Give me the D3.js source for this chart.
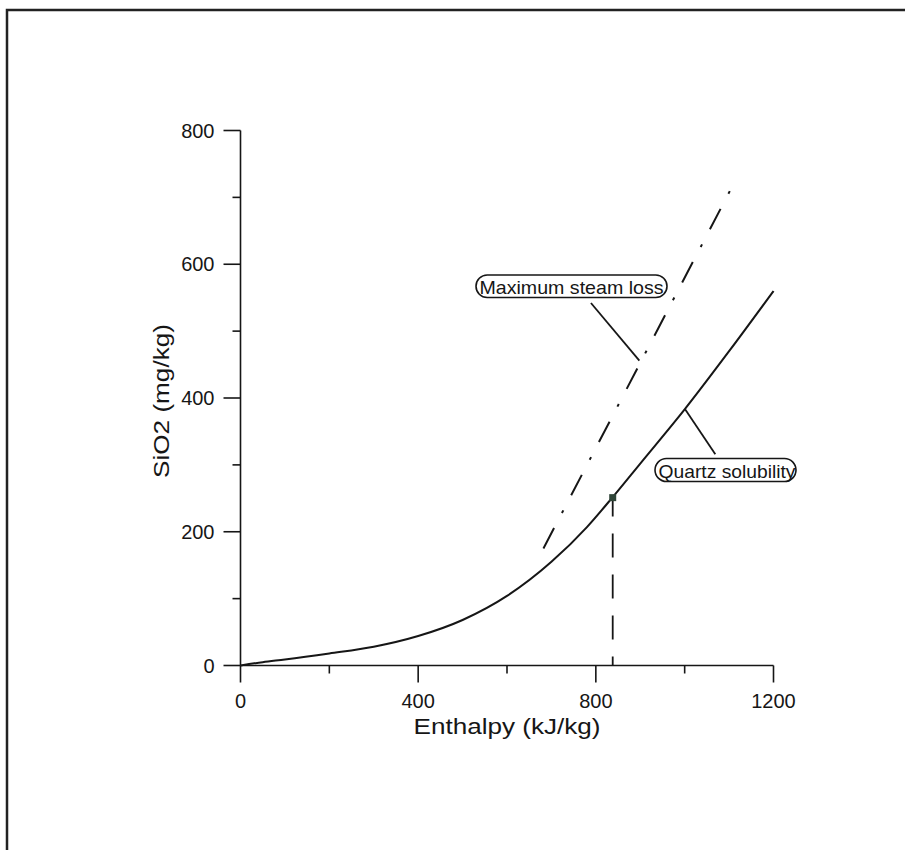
<!DOCTYPE html>
<html>
<head>
<meta charset="utf-8">
<script src="https://cdn.jsdelivr.net/npm/d3@7"></script>
<style>
  html, body { margin: 0; padding: 0; background: #fff; }
  svg { display: block; font-family: "Liberation Sans", Arial, Helvetica, sans-serif; }
</style>
</head>
<body>
<div id="chart"></div>
<script>
// Quartz solubility curve (enthalpy kJ/kg -> SiO2 mg/kg)
const quartzH = [0, 50, 100, 200, 300, 400, 500, 600, 700, 780, 837, 900, 1000, 1100, 1200];
const quartzS = [0, 5, 9, 18, 28, 44, 68, 104, 155, 207, 251, 302, 383, 470, 560];

// Maximum steam loss line
const steamH = [682, 1110];
const steamS = [175, 720];

// Reservoir point (dashed drop line to the axis)
const pointH = 838;
const pointS = 251;

const xTicks = [0, 200, 400, 600, 800, 1000, 1200];
const xLabels = ["0", "", "400", "", "800", "", "1200"];
const yTicks = [0, 100, 200, 300, 400, 500, 600, 700, 800];
const yLabels = ["0", "", "200", "", "400", "", "600", "", "800"];

const W = 905, H = 850;
const INK = "#161616";

const svg = d3.select("#chart").append("svg")
  .attr("width", W).attr("height", H);

// page frame (bottom / right run off the page)
svg.append("rect")
  .attr("x", 7).attr("y", 10)
  .attr("width", 910).attr("height", 860)
  .attr("fill", "none").attr("stroke", "#222").attr("stroke-width", 2.5);

const x = d3.scaleLinear().domain([0, 1200]).range([240.5, 773.5]);
const y = d3.scaleLinear().domain([0, 800]).range([665.5, 130.5]);

// axes lines
svg.append("line")
  .attr("x1", x(0)).attr("x2", x(1200)).attr("y1", y(0)).attr("y2", y(0))
  .attr("stroke", INK).attr("stroke-width", 1.6);
svg.append("line")
  .attr("x1", x(0)).attr("x2", x(0)).attr("y1", y(0)).attr("y2", y(800))
  .attr("stroke", INK).attr("stroke-width", 1.6);

// x ticks
xTicks.forEach((t, i) => {
  const major = xLabels[i] !== "";
  svg.append("line")
    .attr("x1", x(t)).attr("x2", x(t))
    .attr("y1", y(0)).attr("y2", y(0) + (major ? 17 : 8))
    .attr("stroke", INK).attr("stroke-width", 1.6);
  if (major) {
    svg.append("text")
      .attr("x", x(t)).attr("y", y(0) + 42)
      .attr("text-anchor", "middle")
      .attr("font-size", 20).attr("fill", INK)
      .text(xLabels[i]);
  }
});

// y ticks
yTicks.forEach((t, i) => {
  const major = yLabels[i] !== "";
  svg.append("line")
    .attr("x1", x(0)).attr("x2", x(0) - (major ? 17 : 8))
    .attr("y1", y(t)).attr("y2", y(t))
    .attr("stroke", INK).attr("stroke-width", 1.6);
  if (major) {
    svg.append("text")
      .attr("x", x(0) - 26).attr("y", y(t) + 7)
      .attr("text-anchor", "end")
      .attr("font-size", 20).attr("fill", INK)
      .text(yLabels[i]);
  }
});

// axis titles
svg.append("text")
  .attr("x", 507).attr("y", 734)
  .attr("text-anchor", "middle")
  .attr("font-size", 22).attr("fill", INK)
  .attr("textLength", 187).attr("lengthAdjust", "spacingAndGlyphs")
  .text("Enthalpy (kJ/kg)");

svg.append("text")
  .attr("transform", "translate(169,401) rotate(-90)")
  .attr("text-anchor", "middle")
  .attr("font-size", 22).attr("fill", INK)
  .attr("textLength", 154).attr("lengthAdjust", "spacingAndGlyphs")
  .text("SiO2 (mg/kg)");

// quartz solubility curve
const quartz = quartzH.map((h, i) => ({ h, s: quartzS[i] }));
svg.append("path")
  .datum(quartz)
  .attr("fill", "none").attr("stroke", INK).attr("stroke-width", 2)
  .attr("d", d3.line().x(d => x(d.h)).y(d => y(d.s)).curve(d3.curveMonotoneX));

// maximum steam loss (dash-dot)
const steam = steamH.map((h, i) => ({ h, s: steamS[i] }));
svg.append("path")
  .datum(steam)
  .attr("fill", "none").attr("stroke", INK).attr("stroke-width", 2)
  .attr("stroke-dasharray", "23,17,3,17")
  .attr("d", d3.line().x(d => x(d.h)).y(d => y(d.s)));

// dashed drop line from the point to the enthalpy axis
svg.append("line")
  .attr("x1", x(pointH)).attr("x2", x(pointH))
  .attr("y1", y(0)).attr("y2", y(pointS))
  .attr("stroke", INK).attr("stroke-width", 1.8)
  .attr("stroke-dasharray", "24,17").attr("stroke-dashoffset", 15);

svg.append("rect")
  .attr("x", x(pointH) - 3.5).attr("y", y(pointS) - 3.5)
  .attr("width", 7).attr("height", 7)
  .attr("fill", "#2f4538");

// labels with pill boxes and leader lines
function callout(text, bx, by, bw, bh, tlen, from, to) {
  svg.append("line")
    .attr("x1", x(from[0])).attr("y1", y(from[1]))
    .attr("x2", x(to[0])).attr("y2", y(to[1]))
    .attr("stroke", INK).attr("stroke-width", 1.8);
  svg.append("rect")
    .attr("x", bx).attr("y", by).attr("width", bw).attr("height", bh)
    .attr("rx", bh / 2).attr("ry", bh / 2)
    .attr("fill", "#fff").attr("stroke", INK).attr("stroke-width", 1.6);
  svg.append("text")
    .attr("x", bx + 3.5).attr("y", by + bh - 4)
    .attr("font-size", 18.5).attr("fill", INK)
    .attr("textLength", tlen).attr("lengthAdjust", "spacingAndGlyphs")
    .text(text);
}

callout("Maximum steam loss", 476, 275, 191, 22.5, 184, [789, 542], [898, 456]);
callout("Quartz solubility", 655, 458.5, 141, 23, 137, [1001, 383], [1069, 316]);
</script>
</body>
</html>
